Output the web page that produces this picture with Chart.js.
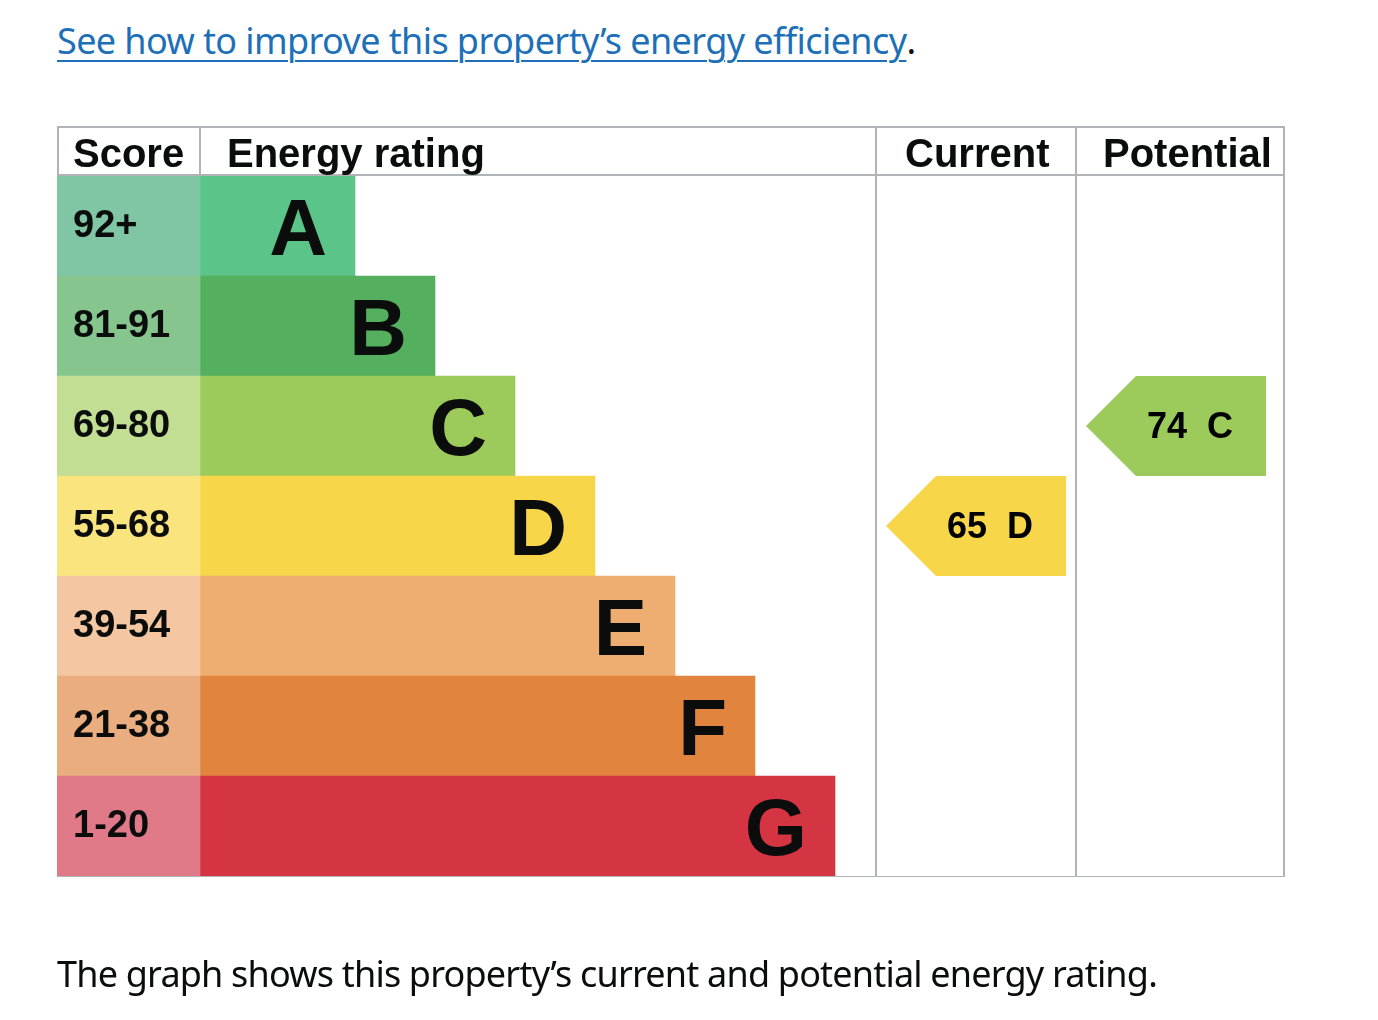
<!DOCTYPE html>
<html>
<head>
<meta charset="utf-8">
<script src="https://cdn.jsdelivr.net/npm/chart.js@4.4.1/dist/chart.umd.min.js"></script>
<style>
  html, body { margin: 0; padding: 0; background: #fff; }
  body { width: 1378px; height: 1020px; position: relative; overflow: hidden;
         font-family: "Noto Sans", sans-serif; color: #0b0c0c; }
  .line { position: absolute; left: 57px; font-size: 36px; line-height: 36px; white-space: nowrap; }
  #link { top: 23px; }
  #link a { color: #1d70b8; text-decoration: underline; text-decoration-thickness: 2px; text-underline-offset: 6px; }
  #caption { top: 956px; }
  #chartBox { position: absolute; left: 0; top: 0; width: 1378px; height: 1020px; }
</style>
</head>
<body>
<div class="line" id="link"><a href="#" id="linkText">See how to improve this property’s energy efficiency</a>.</div>
<div id="chartBox"><canvas id="epcChart"></canvas></div>
<div class="line" id="caption"><span id="captionText">The graph shows this property’s current and potential energy rating.</span></div>

<script>
// bands, top (best) to bottom (worst)
const bands = ['A', 'B', 'C', 'D', 'E', 'F', 'G'];
const scoreRanges = ['92+', '81-91', '69-80', '55-68', '39-54', '21-38', '1-20'];
const bandMin = [92, 81, 69, 55, 39, 21, 1];
const barLengths = [155, 235, 315, 395, 475, 555, 635];
const bandColors = ['#5bc589', '#54b05f', '#9ccb5b', '#f7d64a', '#eeae71', '#e0843e', '#d53443'];
const scoreColors = ['#80c5a4', '#86c68e', '#c1de93', '#fae47e', '#f4c6a1', '#e9ad80', '#e17a88'];
const headers = ['Score', 'Energy rating', 'Current', 'Potential'];
const currentScore = 65;
const potentialScore = 74;

// column edges in x-scale units (0 = start of the rating bars)
const colEdges = [-143, 0, 676, 876, 1085];
const headerPad = [16, 27, 29, 27];

function bandOf(score) {
  return bandMin.findIndex(m => score >= m);
}

const FONT = '"Liberation Sans", Arial, sans-serif';
const INK = '#0b0c0c';
const GRID = '#b1b4b6';

const epcPlugin = {
  id: 'epc',
  beforeDatasetsDraw(chart) {
    const { ctx, scales: { x, y }, chartArea } = chart;
    const left = x.getPixelForValue(colEdges[0]);
    const right = x.getPixelForValue(colEdges[4]);
    const top = chartArea.top - 50;
    ctx.save();
    ctx.strokeStyle = GRID;
    ctx.lineWidth = 2;
    ctx.beginPath();
    // header frame
    ctx.moveTo(left, top + 1); ctx.lineTo(right, top + 1);
    ctx.moveTo(left, chartArea.top - 1); ctx.lineTo(right, chartArea.top - 1);
    ctx.moveTo(left + 1, top); ctx.lineTo(left + 1, chartArea.top);
    ctx.moveTo(x.getPixelForValue(colEdges[1]), top); ctx.lineTo(x.getPixelForValue(colEdges[1]), chartArea.top);
    // full-height column lines
    for (let i = 2; i < colEdges.length; i++) {
      const px = x.getPixelForValue(colEdges[i]) - (i === colEdges.length - 1 ? 1 : 0);
      ctx.moveTo(px, top); ctx.lineTo(px, chartArea.bottom + 1);
    }
    ctx.stroke();
    ctx.lineWidth = 1;
    ctx.beginPath();
    ctx.moveTo(left, chartArea.bottom + 0.5); ctx.lineTo(right, chartArea.bottom + 0.5);
    ctx.stroke();

    // header texts
    ctx.fillStyle = INK;
    ctx.font = 'bold 40px ' + FONT;
    ctx.textAlign = 'left';
    ctx.textBaseline = 'alphabetic';
    headers.forEach((h, i) => {
      ctx.fillText(h, x.getPixelForValue(colEdges[i]) + headerPad[i], chartArea.top - 9);
    });
    ctx.restore();
  },
  afterDatasetsDraw(chart) {
    const { ctx, scales: { x, y } } = chart;
    const rowH = y.getPixelForValue(1) - y.getPixelForValue(0);
    ctx.save();
    ctx.fillStyle = INK;

    // score ranges
    ctx.font = 'bold 38px ' + FONT;
    ctx.textAlign = 'left';
    scoreRanges.forEach((s, i) => {
      ctx.fillText(s, x.getPixelForValue(colEdges[0]) + 16, y.getPixelForValue(i) + 11);
    });

    // band letters
    ctx.font = 'bold 80px ' + FONT;
    ctx.textAlign = 'right';
    bands.forEach((b, i) => {
      ctx.fillText(b, x.getPixelForValue(barLengths[i]) - 28, y.getPixelForValue(i) + 29);
    });

    // current / potential arrows
    [[currentScore, 2], [potentialScore, 3]].forEach(([score, col]) => {
      const bi = bandOf(score);
      const cy = y.getPixelForValue(bi);
      const x0 = x.getPixelForValue(colEdges[col]) + 10;
      const x1 = x0 + 180;
      const half = rowH / 2;
      ctx.fillStyle = bandColors[bi];
      ctx.beginPath();
      ctx.moveTo(x0, cy);
      ctx.lineTo(x0 + half, cy - half);
      ctx.lineTo(x1, cy - half);
      ctx.lineTo(x1, cy + half);
      ctx.lineTo(x0 + half, cy + half);
      ctx.closePath();
      ctx.fill();
      ctx.fillStyle = '#000';
      ctx.font = 'bold 36px ' + FONT;
      ctx.textAlign = 'center';
      ctx.fillText(score + '  ' + bands[bi], (x0 + x1) / 2 + 14, cy + 12);
    });
    ctx.restore();
  }
};

new Chart(document.getElementById('epcChart'), {
  type: 'bar',
  data: {
    labels: bands,
    datasets: [
      {
        label: 'Score',
        data: bands.map(() => [colEdges[0], colEdges[1]]),
        backgroundColor: scoreColors,
        grouped: false,
        barPercentage: 1,
        categoryPercentage: 1,
        borderWidth: 0
      },
      {
        label: 'Energy rating',
        data: barLengths.map(l => [0, l]),
        backgroundColor: bandColors,
        grouped: false,
        barPercentage: 1,
        categoryPercentage: 1,
        borderWidth: 0
      }
    ]
  },
  options: {
    indexAxis: 'y',
    responsive: true,
    maintainAspectRatio: false,
    animation: false,
    layout: { padding: { left: 57, right: 93, top: 176, bottom: 144 } },
    scales: {
      x: { type: 'linear', min: colEdges[0], max: colEdges[4], display: false },
      y: { type: 'category', display: false }
    },
    plugins: { legend: { display: false }, tooltip: { enabled: false } }
  },
  plugins: [epcPlugin]
});

// fit the two text lines to the widths seen in the reference
function fit(el, target) {
  const w = el.getBoundingClientRect().width;
  el.style.letterSpacing = ((target - w) / el.textContent.length) + 'px';
}
fit(document.getElementById('linkText'), 848);
fit(document.getElementById('captionText'), 1100);
</script>
</body>
</html>
